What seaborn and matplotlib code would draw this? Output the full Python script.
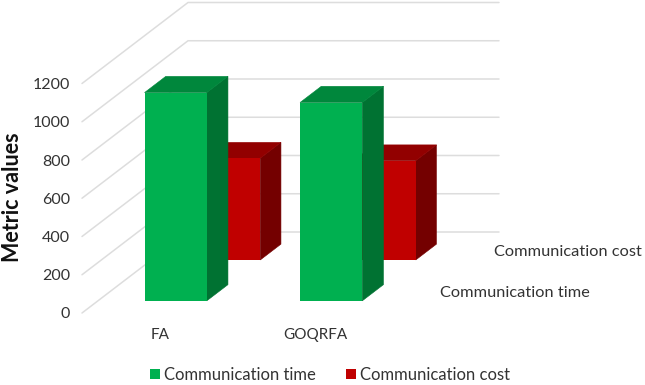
import matplotlib
matplotlib.use("Agg")
import matplotlib.pyplot as plt
from matplotlib.patches import Polygon
import pandas as pd
import seaborn as sns

methods = ["FA", "GOQRFA"]
comm_time = [1089, 1037]
comm_cost = [532, 519]
series_names = ["Communication time", "Communication cost"]
y_ticks = [0, 200, 400, 600, 800, 1000, 1200]

front_colors = ["#00B050", "#C00000"]
side_colors = ["#007232", "#740000"]
top_colors = ["#00873C", "#920000"]
text_color = "#333333"

sns.set_theme(style="white")
plt.rcParams["font.family"] = ["Lato", "DejaVu Sans"]

W, H = 645, 385
fig = plt.figure(figsize=(W / 100, H / 100), dpi=100)
ax = fig.add_axes([82 / W, (H - 313) / H, 311 / W, 229.5 / H])

df = pd.DataFrame({
    "Method": methods * 2,
    "Metric": [series_names[0]] * 2 + [series_names[1]] * 2,
    "Value": comm_time + comm_cost,
})
sns.barplot(data=df, x="Method", y="Value", hue="Metric", hue_order=series_names,
            palette=front_colors, dodge=False, width=0.4, saturation=1,
            linewidth=0, ax=ax)
ax.set_xlim(-0.5, 1.5)
ax.set_ylim(0, 1200)

# Oblique depth vector of the Excel-like 3D chart, in data units
DX = 106 / (311 / 2)
DY = 81 / (229.5 / 1200)
near = [0.15, 0.655]
far = [0.35, 0.85]

# Walls: front tick -> back wall -> right end
x0, x1 = ax.get_xlim()
for t in y_ticks:
    ax.plot([x0, x0 + DX, x1 + DX], [t, t + DY, t + DY], color="#DDDDDD", lw=1.1,
            clip_on=False, zorder=1)

# Extrude every bar drawn by seaborn
for i, cont in enumerate(ax.containers):
    z = 4 - i * 2
    for b in cont:
        x, w, h = b.get_x(), b.get_width(), b.get_height()
        xa, ya = x + near[i] * DX, near[i] * DY
        ex, ey = (far[i] - near[i]) * DX, (far[i] - near[i]) * DY
        b.set_x(xa)
        b.set_y(ya)
        b.set_clip_on(False)
        b.set_zorder(z + 0.5)
        ax.add_patch(Polygon([(xa + w, ya), (xa + w + ex, ya + ey),
                              (xa + w + ex, ya + ey + h), (xa + w, ya + h)],
                             closed=True, fc=side_colors[i], ec=side_colors[i], lw=0.4,
                             clip_on=False, zorder=z))
        ax.add_patch(Polygon([(xa, ya + h), (xa + ex, ya + ey + h),
                              (xa + w + ex, ya + ey + h), (xa + w, ya + h)],
                             closed=True, fc=top_colors[i], ec=top_colors[i], lw=0.4,
                             clip_on=False, zorder=z))

# Depth-axis series labels
for i, name in enumerate(series_names):
    mid = (near[i] + far[i]) / 2
    ax.annotate(name, xy=(x1 + mid * DX, mid * DY), xytext=(15, 0), textcoords="offset points",
                ha="left", va="center", fontsize=11.8, color=text_color, annotation_clip=False)

for s in ax.spines.values():
    s.set_visible(False)
ax.grid(False)
ax.set_yticks(y_ticks)
ax.set_xticks(range(len(methods)))
ax.set_xticklabels(methods)
ax.tick_params(axis="y", length=0, pad=8.5, labelsize=11.5, labelcolor=text_color)
ax.tick_params(axis="x", length=0, pad=10.5, labelsize=11, labelcolor=text_color)
ax.set_xlabel("")
ax.set_ylabel("Metric values", fontsize=15.5, fontweight="bold", color="#111111")
ax.yaxis.set_label_coords(-(82 - 23) / 311, (313 - 197) / 229.5)

handles, labels = ax.get_legend_handles_labels()
ax.legend(handles, labels, loc="center", bbox_to_anchor=(330 / W, (H - 375) / H),
          bbox_transform=fig.transFigure, ncol=2, frameon=False, fontsize=12,
          handlelength=0.6, handleheight=0.6, handletextpad=0.24, columnspacing=1.75,
          labelcolor=text_color, borderpad=0)

fig.savefig("out.png", dpi=100)
